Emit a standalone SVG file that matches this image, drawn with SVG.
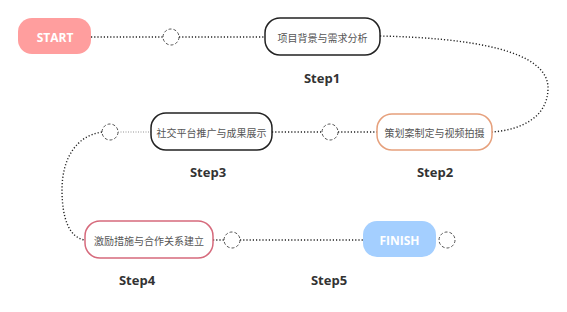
<svg xmlns="http://www.w3.org/2000/svg" width="567" height="312" viewBox="0 0 567 312">
<style>
.dot{fill:none;stroke:#222;stroke-width:1.4;stroke-dasharray:1.2 2;stroke-linecap:butt}
.thin{fill:none;stroke:#777;stroke-width:0.8;stroke-dasharray:1 1.5}
.c{fill:#fff;stroke:#555;stroke-width:1;stroke-dasharray:3 2}
.lbl{font-family:"Noto Sans CJK SC","Noto Sans",sans-serif;font-size:10px;fill:#555;text-anchor:middle;dominant-baseline:central}
.step{font-family:"Open Sans","Noto Sans",sans-serif;font-size:13px;font-weight:bold;fill:#333;text-anchor:middle;dominant-baseline:central}
.term{font-family:"Open Sans","Noto Sans",sans-serif;font-size:12px;font-weight:bold;fill:#fff;text-anchor:middle;dominant-baseline:central}
</style>
<rect width="567" height="312" fill="#fff"/>
<g id="connectors">
<line class="dot" x1="91" y1="37" x2="163" y2="37"/>
<line class="dot" x1="179" y1="37" x2="265" y2="37"/>
<path class="dot" d="M380,36 C470,38 548,50 548,88 C548,118 520,130 492,132"/>
<line class="dot" x1="338" y1="132" x2="377" y2="132"/>
<line class="dot" x1="272" y1="132" x2="322" y2="132"/>
<line class="thin" x1="118" y1="132" x2="151" y2="132"/>
<path class="dot" d="M102,132 C75,136 62,160 62,190 C62,220 70,238 85,240"/>
<line class="dot" x1="213" y1="240" x2="224" y2="240"/>
<line class="dot" x1="240" y1="240" x2="363" y2="240"/>
<circle class="c" cx="171" cy="37" r="8"/>
<circle class="c" cx="330" cy="132" r="8"/>
<circle class="c" cx="110" cy="132" r="8"/>
<circle class="c" cx="232" cy="240" r="8"/>
<circle class="c" cx="447" cy="240" r="8"/>
</g>
<g id="start">
<rect x="18" y="18" width="73" height="36" rx="14" fill="#FF9E9E"/>
<text class="term" x="55" y="37">START</text>
</g>
<g id="step1">
<rect x="265" y="18" width="115" height="37" rx="15" fill="#fff" stroke="#222" stroke-width="1.5"/>
<text class="lbl" x="322.5" y="37">项目背景与需求分析</text>
<text class="step" x="322" y="78">Step1</text>
</g>
<g id="step2">
<rect x="377" y="114" width="115" height="36" rx="15" fill="#fff" stroke="#E6A07C" stroke-width="1.5"/>
<text class="lbl" x="434.5" y="132">策划案制定与视频拍摄</text>
<text class="step" x="435" y="172">Step2</text>
</g>
<g id="step3">
<rect x="151" y="113" width="121" height="37" rx="15" fill="#fff" stroke="#222" stroke-width="1.5"/>
<text class="lbl" x="211.5" y="132">社交平台推广与成果展示</text>
<text class="step" x="208" y="172">Step3</text>
</g>
<g id="step4">
<rect x="85" y="221" width="128" height="37" rx="15" fill="#fff" stroke="#D66A7C" stroke-width="1.5"/>
<text class="lbl" x="149" y="240">激励措施与合作关系建立</text>
<text class="step" x="137" y="280">Step4</text>
</g>
<g id="finish">
<rect x="363" y="221" width="73" height="36" rx="14" fill="#A4CFFF"/>
<text class="term" x="399.5" y="240">FINISH</text>
<text class="step" x="329" y="280">Step5</text>
</g>
</svg>
